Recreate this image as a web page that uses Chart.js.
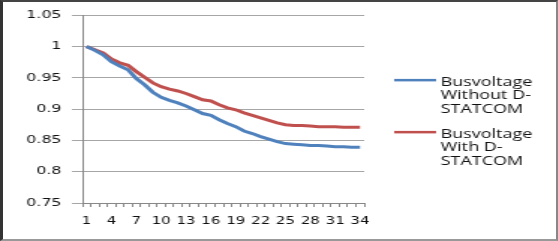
<!DOCTYPE html>
<html>
<head>
<meta charset="utf-8">
<script src="https://cdn.jsdelivr.net/npm/chart.js@4"></script>
<style>
  body { margin: 0; background: #fff; }
  #frame {
    position: absolute; left: 0; top: 0;
    width: 558px; height: 241px; box-sizing: border-box;
    border-left: 3px solid #333; border-top: 2px solid #444;
    border-right: 2px solid #888; border-bottom: 2px solid #999;
    background: #fff;
  }
</style>
</head>
<body>
<div id="frame">
  <!-- drawn narrow and stretched sideways, the reference picture is stretched the same way -->
  <canvas id="canvas1" width="369" height="237" style="width:553px;height:237px"></canvas>
</div>
<script>
// bus numbers
const buses = [1, 2, 3, 4, 5, 6, 7, 8, 9, 10, 11, 12, 13, 14, 15, 16, 17,
    18, 19, 20, 21, 22, 23, 24, 25, 26, 27, 28, 29, 30, 31, 32, 33, 34];

// bus voltage (p.u.) without D-STATCOM
const withoutStatcom = [1.0, 0.994, 0.987, 0.976, 0.969, 0.963, 0.949, 0.939, 0.927, 0.919,
    0.914, 0.910, 0.905, 0.899, 0.893, 0.890, 0.883, 0.877, 0.872, 0.865,
    0.861, 0.856, 0.852, 0.848, 0.845, 0.844, 0.843, 0.842, 0.842, 0.841,
    0.840, 0.840, 0.839, 0.839];

// bus voltage (p.u.) with D-STATCOM
const withStatcom = [1.0, 0.995, 0.990, 0.980, 0.974, 0.970, 0.960, 0.951, 0.942, 0.936,
    0.932, 0.929, 0.925, 0.920, 0.915, 0.913, 0.907, 0.902, 0.899, 0.894,
    0.890, 0.886, 0.882, 0.878, 0.875, 0.874, 0.874, 0.873, 0.872, 0.872,
    0.872, 0.871, 0.871, 0.871];

const yTicks = [0.75, 0.8, 0.85, 0.9, 0.95, 1, 1.05];

const legendWithout = ['Busvoltage', 'Without D-', 'STATCOM'];
const legendWith = ['Busvoltage', 'With D-', 'STATCOM'];

// legend on the right, text on three lines like the original
const sideLegend = {
    id: 'sideLegend',
    afterDraw(chart) {
        const ctx = chart.ctx;
        const area = chart.chartArea;
        const midY = (area.top + area.bottom) / 2;
        const x0 = area.right + 20;
        ctx.save();
        ctx.font = '12px "Open Sans"';
        ctx.textBaseline = 'middle';
        ctx.textAlign = 'left';
        chart.data.datasets.forEach((ds, i) => {
            const y0 = midY - 29 + i * 52;
            ctx.strokeStyle = ds.borderColor;
            ctx.lineWidth = 2.5;
            ctx.beginPath();
            ctx.moveTo(x0, y0);
            ctx.lineTo(x0 + 28, y0);
            ctx.stroke();
            ctx.fillStyle = '#111';
            ds.legendLines.forEach((t, j) => {
                ctx.fillText(t, x0 + 31, y0 + 2 + j * 13.5);
            });
        });
        ctx.restore();
    }
};

const ctx1 = document.getElementById('canvas1');

new Chart(ctx1, {
    type: 'line',
    data: {
        labels: buses,
        datasets: [{
            label: legendWithout.join(' '),
            legendLines: legendWithout,
            data: withoutStatcom,
            borderColor: '#4F81BD',
            backgroundColor: '#4F81BD',
            borderWidth: 3,
            pointRadius: 0,
            tension: 0
        },
        {
            label: legendWith.join(' '),
            legendLines: legendWith,
            data: withStatcom,
            borderColor: '#C0504D',
            backgroundColor: '#C0504D',
            borderWidth: 3,
            pointRadius: 0,
            tension: 0
        }]
    },
    options: {
        responsive: false,
        devicePixelRatio: 1,
        animation: false,
        layout: {
            padding: { top: 11, right: 128, bottom: 0, left: 0 }
        },
        plugins: {
            legend: { display: false },
            tooltip: { enabled: false }
        },
        scales: {
            x: {
                offset: true,
                afterFit: (scale) => { scale.height = 36; },
                grid: {
                    offset: true,
                    drawOnChartArea: false,
                    drawTicks: true,
                    tickLength: 4,
                    color: '#888'
                },
                border: { color: '#888', width: 1 },
                ticks: {
                    autoSkip: false,
                    maxRotation: 0,
                    minRotation: 0,
                    padding: 8,
                    color: '#111',
                    font: { family: 'DejaVu Sans', size: 10 },
                    callback: (v, i) => (i % 3 === 0 ? String(buses[i]) : '')
                }
            },
            y: {
                min: 0.75,
                max: 1.05,
                afterFit: (scale) => { scale.width = 53; },
                afterBuildTicks: (scale) => {
                    scale.ticks = yTicks.map(v => ({ value: v }));
                },
                grid: {
                    color: '#a6a6a6',
                    drawTicks: true,
                    tickLength: 7
                },
                border: { color: '#888', width: 1 },
                ticks: {
                    padding: 7,
                    color: '#111',
                    font: { family: 'DejaVu Sans', size: 10.5 },
                    callback: (v) => String(v)
                }
            }
        }
    },
    plugins: [sideLegend]
});
</script>
</body>
</html>
